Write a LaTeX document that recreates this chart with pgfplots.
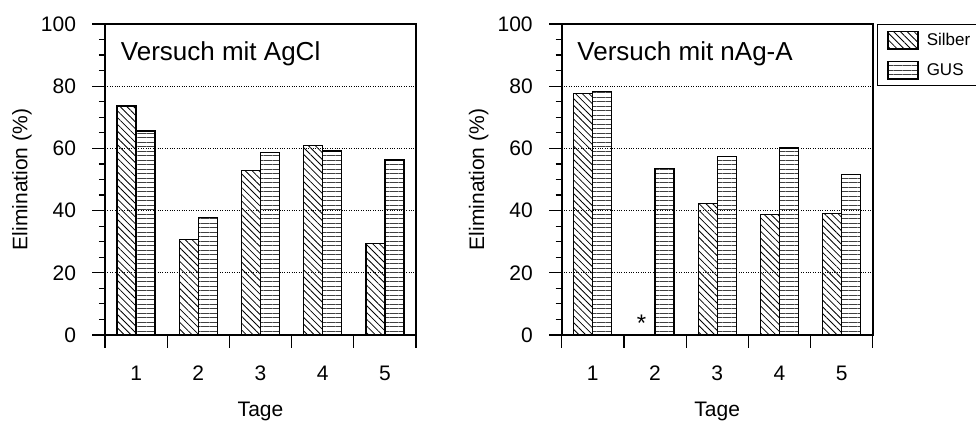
\documentclass[border=0pt]{standalone}
\usepackage{pgfplots}
\pgfplotsset{compat=1.18}
\usetikzlibrary{patterns.meta}
\usepackage{fontspec}
\setmainfont{Liberation Sans}

\pgfplotsset{
 mystyle/.style={
  scale only axis, width=311bp, height=311bp,
  xmin=0.5,xmax=5.5,ymin=0,ymax=100,
  ybar=0pt, bar width=0.305,
  xtick={0.5,1.5,...,5.5}, x tick label as interval, xticklabels={1,2,3,4,5},
  ytick={0,20,...,100}, minor y tick num=3,
  tick align=outside, xtick pos=lower, ytick pos=left,
  major tick length=12.5bp, minor tick length=6bp,
  every tick/.style={black, line width=1.2bp},
  axis line style={line width=2bp},
  ymajorgrids, grid style={dotted, black, line width=0.8bp},
  tick label style={font=\fontsize{21bp}{24bp}\selectfont},
  xticklabel style={yshift=-15bp},
  yticklabel style={xshift=-13bp},
  /pgf/number format/assume math mode=true,
  label style={font=\fontsize{21bp}{25bp}\selectfont},
  ylabel={Elimination (\%)},
  xlabel={Tage},
  ylabel style={at={(axis description cs:-0.267,0.5)}, anchor=center},
  xlabel style={at={(axis description cs:0.5,-0.2627)}, anchor=base},
  legend image code/.code={\draw[#1, line width=1.3bp] (0bp,-8.5bp) rectangle (30bp,9bp);},
 },
 silber/.style={draw=black, line width=1.3bp, pattern={Lines[angle=-45,distance=4.8bp,line width=0.8bp]}},
 gus/.style={draw=black, line width=1.3bp, pattern={Lines[angle=0,distance=4.5bp,line width=0.7bp]}, pattern color=black!75},
}

\begin{document}
\begin{tikzpicture}
\useasboundingbox (0,0) rectangle (976bp,421bp);
\begin{axis}[mystyle, at={(105bp,86bp)}, anchor=south west]
\addplot[silber] coordinates {(1,73.6) (2,30.8) (3,52.8) (4,60.9) (5,29.5)};
\addplot[gus] coordinates {(1,65.6) (2,37.7) (3,58.6) (4,59.2) (5,56.3)};
\node[anchor=base west, inner sep=0pt, font=\fontsize{26bp}{30bp}\selectfont] at (axis description cs:0.0505,0.884) {Versuch mit AgCl};
\end{axis}
\begin{axis}[mystyle, at={(561.7bp,86bp)}, anchor=south west,
  legend style={at={(1,1)}, anchor=north west, xshift=4bp, draw=black, line width=1.5bp,
    font=\fontsize{17bp}{20bp}\selectfont, inner xsep=10bp, inner ysep=6bp, row sep=11.3bp},
  legend cell align=left]
\addplot[silber] coordinates {(1,77.6) (3,42.3) (4,38.7) (5,39.1)};
\addplot[gus] coordinates {(1,78.2) (2,53.5) (3,57.3) (4,60.1) (5,51.6)};
\legend{\hspace*{6bp}\makebox[60bp][l]{Silber},\hspace*{6bp}\makebox[60bp][l]{GUS}}
\node[anchor=base, inner sep=0pt, font=\fontsize{24bp}{28bp}\selectfont] at (axis cs:1.784,1.0) {*};
\node[anchor=base west, inner sep=0pt, font=\fontsize{26bp}{30bp}\selectfont] at (axis description cs:0.050,0.884) {Versuch mit nAg-A};
\end{axis}
\end{tikzpicture}
\end{document}
